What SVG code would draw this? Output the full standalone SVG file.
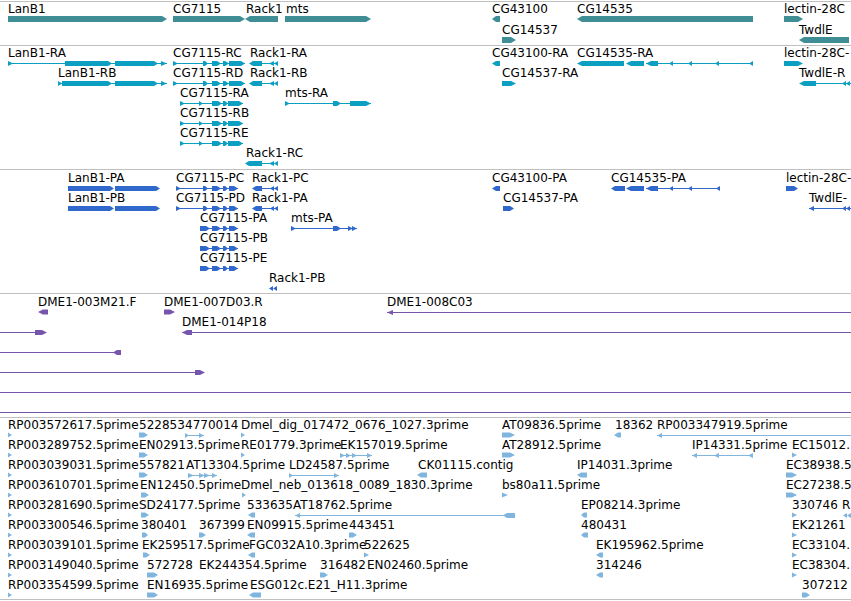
<svg xmlns="http://www.w3.org/2000/svg" width="851" height="601" viewBox="0 0 851 601">
<style>
text{font-family:"DejaVu Sans","Liberation Sans",sans-serif;font-size:12px;fill:#000;stroke:none}
.sep{stroke:#c0c0c0;stroke-width:1;fill:none}
.g{fill:#3f8e95}
.r{fill:#0b9fc1;stroke:#0b9fc1}
.p{fill:#3168cc;stroke:#3168cc}
.d{fill:#7656ac;stroke:#7656ac}
.e{fill:#80b5de;stroke:#80b5de}
.ln{fill:none;stroke-width:1}
.sh{stroke:none}
</style>
<defs>
<g id="cgL"><path d="M0 0H72" fill="none"/><polygon stroke="none" points="0,-2.5 5,0 0,2.5"/><polygon stroke="none" points="30,-2.5 32,-2.5 35,0 32,2.5 30,2.5"/><polygon stroke="none" points="39,-2.5 44,-2.5 48,0 44,2.5 39,2.5"/><polygon stroke="none" points="50,-2.5 52,-2.5 56,0 52,2.5 50,2.5"/><polygon stroke="none" points="56,-2.5 68,-2.5 72,0 68,2.5 56,2.5"/></g>
<g id="cgS"><path d="M0 0H63" fill="none"/><polygon stroke="none" points="0,-2.5 5,0 0,2.5"/><polygon stroke="none" points="19,-2.5 23,0 19,2.5"/><polygon stroke="none" points="32,-2.5 38,-2.5 42,0 38,2.5 32,2.5"/><polygon stroke="none" points="43,-2.5 45,-2.5 48,0 45,2.5 43,2.5"/><polygon stroke="none" points="48,-2.5 59,-2.5 63,0 59,2.5 48,2.5"/></g>
<g id="rk"><path d="M13 0H29" fill="none"/><polygon stroke="none" points="0,0 4,-2.5 13,-2.5 13,2.5 4,2.5"/><polygon stroke="none" points="20,0 25,-2.5 25,2.5"/><polygon stroke="none" points="25,0 29,-2.5 29,2.5"/></g>
<g id="pcL"><path d="M0 0H62" fill="none"/><polygon stroke="none" points="0,-2.5 5,0 0,2.5"/><polygon stroke="none" points="27,-2.5 29,-2.5 32,0 29,2.5 27,2.5"/><polygon stroke="none" points="36,-2.5 41,-2.5 45,0 41,2.5 36,2.5"/><polygon stroke="none" points="47,-2.5 49,-2.5 52,0 49,2.5 47,2.5"/><polygon stroke="none" points="53,-2.5 58,-2.5 62,0 58,2.5 53,2.5"/></g>
<g id="pcS"><path d="M0 0H38" fill="none"/><polygon stroke="none" points="0,-2.5 6,-2.5 10,0 6,2.5 0,2.5"/><polygon stroke="none" points="12,-2.5 17,-2.5 21,0 17,2.5 12,2.5"/><polygon stroke="none" points="23,-2.5 25,-2.5 28,0 25,2.5 23,2.5"/><polygon stroke="none" points="29,-2.5 34,-2.5 38,0 34,2.5 29,2.5"/></g>
<g id="prk"><path d="M10 0H26" fill="none"/><polygon stroke="none" points="0,0 4,-2.5 10,-2.5 10,2.5 4,2.5"/><polygon stroke="none" points="18,0 22,-2.5 22,2.5"/><polygon stroke="none" points="22,0 26,-2.5 26,2.5"/></g>
</defs>
<rect width="851" height="601" fill="#fff"/>
<g id="separators">
<path class="sep" d="M0 1.5H851M0 45.5H851M0 169.5H851M0 293.5H851M0 417.5H851M0 599.5H851"/>
</g>
<g id="connectors"></g>
<!-- Track 1: genes -->
<g id="gene-LanB1"><text x="8" y="13">LanB1</text><polygon class="g" points="8,16 162,16 167,19 162,22 8,22"/></g>
<g id="gene-CG7115"><text x="173" y="13">CG7115</text><polygon class="g" points="173,16 240,16 245,19 240,22 173,22"/></g>
<g id="gene-Rack1"><text x="246" y="13">Rack1</text><polygon class="g" points="245,19 250,16 278,16 278,22 250,22"/></g>
<g id="gene-mts"><text x="286" y="13">mts</text><polygon class="g" points="285,16 366,16 371,19 366,22 285,22"/></g>
<g id="gene-CG43100"><text x="492" y="13">CG43100</text><polygon class="g" points="492,19 496,16 500,16 500,22 496,22"/></g>
<g id="gene-CG14535"><text x="577" y="13">CG14535</text><polygon class="g" points="577,19 582,16 753,16 753,22 582,22"/></g>
<g id="gene-lectin-28C"><text x="784" y="13">lectin-28C</text><polygon class="g" points="784,16 798,16 803,19 798,22 784,22"/></g>
<g id="gene-CG14537"><text x="502" y="34">CG14537</text><polygon class="g" points="502,37 511,37 516,40 511,43 502,43"/></g>
<g id="gene-TwdlE"><text x="799" y="34">TwdlE</text><polygon class="g" points="799,40 804,37 849,37 849,43 804,43"/></g>
<!-- Track 2: transcripts -->
<g id="tx-LanB1-RA" class="r"><text x="8" y="57">LanB1-RA</text><path class="ln" d="M8 63.5H167"/><polygon class="sh" points="8,61 13,63.5 8,66"/><polygon class="sh" points="65,61 108,61 112,63.5 108,66 65,66"/><polygon class="sh" points="115,61 154,61 158,63.5 154,66 115,66"/><polygon class="sh" points="161,61 167,63.5 161,66"/></g>
<g id="tx-LanB1-RB" class="r"><text x="58" y="77">LanB1-RB</text><path class="ln" d="M58 83.5H167"/><polygon class="sh" points="58,81 62,83.5 58,86"/><polygon class="sh" points="62,81 108,81 112,83.5 108,86 62,86"/><polygon class="sh" points="115,81 154,81 158,83.5 154,86 115,86"/><polygon class="sh" points="161,81 167,83.5 161,86"/></g>
<g id="tx-CG7115-RC"><text x="173" y="57">CG7115-RC</text><use href="#cgL" class="r" transform="translate(173,63.5)"/></g>
<g id="tx-CG7115-RD"><text x="173" y="77">CG7115-RD</text><use href="#cgL" class="r" transform="translate(173,83.5)"/></g>
<g id="tx-Rack1-RA"><text x="250" y="57">Rack1-RA</text><use href="#rk" class="r" transform="translate(249,63.5)"/></g>
<g id="tx-Rack1-RB"><text x="250" y="77">Rack1-RB</text><use href="#rk" class="r" transform="translate(249,83.5)"/></g>
<g id="tx-CG7115-RA"><text x="180" y="97">CG7115-RA</text><use href="#cgS" class="r" transform="translate(180,103.5)"/></g>
<g id="tx-CG7115-RB"><text x="180" y="117">CG7115-RB</text><use href="#cgS" class="r" transform="translate(180,123.5)"/></g>
<g id="tx-CG7115-RE"><text x="180" y="137">CG7115-RE</text><use href="#cgS" class="r" transform="translate(180,143.5)"/></g>
<g id="tx-Rack1-RC" class="r"><text x="246" y="157">Rack1-RC</text><path class="ln" d="M262 163.5H278"/><polygon class="sh" points="245,163.5 249,161 262,161 262,166 249,166"/><polygon class="sh" points="269,163.5 274,161 274,166"/><polygon class="sh" points="274,163.5 278,161 278,166"/></g>
<g id="tx-mts-RA" class="r"><text x="285" y="97">mts-RA</text><path class="ln" d="M285 103.5H371"/><polygon class="sh" points="285,101 290,103.5 285,106"/><polygon class="sh" points="333,101 337,101 341,103.5 337,106 333,106"/><polygon class="sh" points="350,101 366,101 371,103.5 366,106 350,106"/></g>
<g id="tx-CG43100-RA" class="r"><text x="492" y="57">CG43100-RA</text><polygon class="sh" points="492,63.5 496,61 500,61 500,66 496,66"/></g>
<g id="tx-CG14535-RA" class="r"><text x="577" y="57">CG14535-RA</text><path class="ln" d="M646 63.5H753"/><polygon class="sh" points="577,63.5 582,61 624,61 624,66 582,66"/><polygon class="sh" points="626,63.5 631,61 644,61 644,66 631,66"/><polygon class="sh" points="646,63.5 651,61 658,61 658,66 651,66"/><polygon class="sh" points="669,63.5 673,61 673,66"/><polygon class="sh" points="688,63.5 692,61 692,66"/><polygon class="sh" points="715,63.5 719,61 719,66"/><polygon class="sh" points="749,63.5 753,61 753,66"/></g>
<g id="tx-lectin-28C-RA" class="r"><text x="784" y="57">lectin-28C-</text><polygon class="sh" points="784,61 798,61 803,63.5 798,66 784,66"/></g>
<g id="tx-CG14537-RA" class="r"><text x="502" y="77">CG14537-RA</text><polygon class="sh" points="502,81 511,81 516,83.5 511,86 502,86"/></g>
<g id="tx-TwdlE-RA" class="r"><text x="799" y="77">TwdlE-R</text><path class="ln" d="M816 83.5H851"/><polygon class="sh" points="799,83.5 804,81 816,81 816,86 804,86"/><polygon class="sh" points="842,83.5 846,81 846,86"/><polygon class="sh" points="846,83.5 850,81 850,86"/></g>
<!-- Track 3: proteins -->
<g id="pr-LanB1-PA" class="p"><text x="68" y="182">LanB1-PA</text><polygon class="sh" points="68,186 110,186 114,188.5 110,191 68,191"/><polygon class="sh" points="115,186 156,186 160,188.5 156,191 115,191"/></g>
<g id="pr-LanB1-PB" class="p"><text x="68" y="202">LanB1-PB</text><polygon class="sh" points="68,206 110,206 114,208.5 110,211 68,211"/><polygon class="sh" points="115,206 156,206 160,208.5 156,211 115,211"/></g>
<g id="pr-CG7115-PC"><text x="176" y="182">CG7115-PC</text><use href="#pcL" class="p" transform="translate(176,188.5)"/></g>
<g id="pr-CG7115-PD"><text x="176" y="202">CG7115-PD</text><use href="#pcL" class="p" transform="translate(176,208.5)"/></g>
<g id="pr-Rack1-PC"><text x="252" y="182">Rack1-PC</text><use href="#prk" class="p" transform="translate(252,188.5)"/></g>
<g id="pr-Rack1-PA"><text x="252" y="202">Rack1-PA</text><use href="#prk" class="p" transform="translate(252,208.5)"/></g>
<g id="pr-CG7115-PA"><text x="200" y="222">CG7115-PA</text><use href="#pcS" class="p" transform="translate(200,228.5)"/></g>
<g id="pr-CG7115-PB"><text x="200" y="242">CG7115-PB</text><use href="#pcS" class="p" transform="translate(200,248.5)"/></g>
<g id="pr-CG7115-PE"><text x="200" y="262">CG7115-PE</text><use href="#pcS" class="p" transform="translate(200,268.5)"/></g>
<g id="pr-Rack1-PB" class="p"><text x="269" y="282">Rack1-PB</text><polygon class="sh" points="269,288.5 273,286 273,291"/><polygon class="sh" points="273,288.5 277,286 277,291"/></g>
<g id="pr-mts-PA" class="p"><text x="291" y="222">mts-PA</text><path class="ln" d="M291 228.5H357"/><polygon class="sh" points="291,226 296,228.5 291,231"/><polygon class="sh" points="333,226 337,226 341,228.5 337,231 333,231"/><polygon class="sh" points="348,226 353,228.5 348,231"/><polygon class="sh" points="352,226 357,228.5 352,231"/></g>
<g id="pr-CG43100-PA" class="p"><text x="492" y="182">CG43100-PA</text><polygon class="sh" points="492,188.5 496,186 500,186 500,191 496,191"/></g>
<g id="pr-CG14535-PA" class="p"><text x="611" y="182">CG14535-PA</text><path class="ln" d="M646 188.5H720"/><polygon class="sh" points="611,188.5 615,186 625,186 625,191 615,191"/><polygon class="sh" points="626,188.5 631,186 644,186 644,191 631,191"/><polygon class="sh" points="646,188.5 651,186 658,186 658,191 651,191"/><polygon class="sh" points="669,188.5 673,186 673,191"/><polygon class="sh" points="688,188.5 692,186 692,191"/><polygon class="sh" points="716,188.5 720,186 720,191"/></g>
<g id="pr-lectin-28C-PA" class="p"><text x="786" y="182">lectin-28C-</text><polygon class="sh" points="786,186 794,186 798,188.5 794,191 786,191"/></g>
<g id="pr-CG14537-PA" class="p"><text x="503" y="202">CG14537-PA</text><polygon class="sh" points="503,206 510,206 514,208.5 510,211 503,211"/></g>
<g id="pr-TwdlE-PA" class="p"><text x="809" y="202">TwdlE-</text><path class="ln" d="M809 208.5H851"/><polygon class="sh" points="809,208.5 814,206 814,211"/><polygon class="sh" points="842,208.5 846,206 846,211"/><polygon class="sh" points="846,208.5 850,206 850,211"/></g>
<!-- Track 4: BAC ends -->
<g id="bac-DME1-003M21.F" class="d"><text x="38" y="306">DME1-003M21.F</text><polygon class="sh" points="38,312 43,309.5 48,309.5 48,314.5 43,314.5"/></g>
<g id="bac-DME1-007D03.R" class="d"><text x="164" y="306">DME1-007D03.R</text><polygon class="sh" points="164,309.5 170,309.5 175,312 170,314.5 164,314.5"/></g>
<g id="bac-DME1-008C03" class="d"><text x="387" y="306">DME1-008C03</text><path class="ln" d="M387 312.5H851"/><polygon class="sh" points="387,312.5 393,310 393,315"/></g>
<g id="bac-row2a" class="d"><path class="ln" d="M0 332.5H40"/><polygon class="sh" points="35,330 42,330 47,332.5 42,335 35,335"/></g>
<g id="bac-DME1-014P18" class="d"><text x="182" y="326">DME1-014P18</text><path class="ln" d="M182 332.5H851"/><polygon class="sh" points="182,332.5 187,330 192,330 192,335 187,335"/></g>
<g id="bac-row3" class="d"><path class="ln" d="M0 352.5H115"/><polygon class="sh" points="113,352.5 117,350 121,350 121,355 117,355"/></g>
<g id="bac-row4" class="d"><path class="ln" d="M0 372.5H200"/><polygon class="sh" points="195,370 200,370 205,372.5 200,375 195,375"/></g>
<g id="bac-row5" class="d"><path class="ln" d="M0 392.5H851"/></g>
<g id="bac-row6" class="d"><path class="ln" d="M0 412.5H851"/></g>
<!-- Track 5: ESTs -->
<g id="est-r1" class="e">
<text x="8" y="429">RP003572617.5prime</text><polygon class="sh" points="8,432.5 12,435 8,437.5"/>
<text x="139" y="429">522853</text><polygon class="sh" points="139,432.5 144,432.5 148,435 144,437.5 139,437.5"/>
<text x="185" y="429">4770014</text><path class="ln" d="M185 435.5H204"/><polygon class="sh" points="185,433 189,435.5 185,438"/><polygon class="sh" points="199,433 204,435.5 199,438"/>
<text x="241" y="429">Dmel_dig_017472_0676_1027.3prime</text><polygon class="sh" points="241,432.5 245,435 241,437.5"/>
<text x="502" y="429">AT09836.5prime</text><polygon class="sh" points="502,432.5 510,432.5 515,435 510,437.5 502,437.5"/>
<text x="615" y="429">18362</text><polygon class="sh" points="614,435 618,432.5 621,432.5 621,437.5 618,437.5"/>
<text x="657" y="429">RP003347919.5prime</text><path class="ln" d="M657 435.5H851"/><polygon class="sh" points="657,435.5 662,433 662,438"/>
</g>
<g id="est-r2" class="e">
<text x="8" y="449">RP003289752.5prime</text><polygon class="sh" points="8,452.5 12,455 8,457.5"/>
<text x="139" y="449">EN02913.5prime</text><polygon class="sh" points="139,452.5 144,452.5 148,455 144,457.5 139,457.5"/>
<text x="241" y="449">RE01779.3prime</text><polygon class="sh" points="241,452.5 245,455 241,457.5"/>
<text x="340" y="449">EK157019.5prime</text><path class="ln" d="M340 455.5H372"/><polygon class="sh" points="340,453 345,455.5 340,458"/><polygon class="sh" points="346,453 351,455.5 346,458"/><polygon class="sh" points="352,453 357,455.5 352,458"/><polygon class="sh" points="367,453 372,455.5 367,458"/>
<text x="502" y="449">AT28912.5prime</text><polygon class="sh" points="502,452.5 510,452.5 515,455 510,457.5 502,457.5"/>
<text x="692" y="449">IP14331.5prime</text><path class="ln" d="M692 455.5H753"/><polygon class="sh" points="692,455.5 697,453 697,458"/><polygon class="sh" points="714,455.5 719,453 719,458"/><polygon class="sh" points="748,455.5 753,453 753,458"/>
<text x="792" y="449">EC15012.</text><polygon class="sh" points="792,452.5 797,455 792,457.5"/>
</g>
<g id="est-r3" class="e">
<text x="8" y="469">RP003039031.5prime</text><polygon class="sh" points="8,472.5 12,475 8,477.5"/>
<text x="139" y="469">557821</text><polygon class="sh" points="139,472.5 144,472.5 148,475 144,477.5 139,477.5"/>
<text x="186" y="469">AT13304.5prime</text><path class="ln" d="M188 475.5H217"/><polygon class="sh" points="188,473 194,475.5 188,478"/><polygon class="sh" points="199,473 205,475.5 199,478"/><polygon class="sh" points="204,473 210,475.5 204,478"/><polygon class="sh" points="212,473 217,475.5 212,478"/>
<text x="289" y="469">LD24587.5prime</text><path class="ln" d="M289 475.5H339"/><polygon class="sh" points="289,473 293,475.5 289,478"/><polygon class="sh" points="334,473 339,475.5 334,478"/>
<text x="418" y="469">CK01115.contig</text><polygon class="sh" points="417,475 421,472.5 427,472.5 427,477.5 421,477.5"/>
<text x="577" y="469">IP14031.3prime</text><polygon class="sh" points="577,475 581,472.5 587,472.5 587,477.5 581,477.5"/>
<text x="786" y="469">EC38938.5</text><polygon class="sh" points="786,472.5 792,472.5 797,475 792,477.5 786,477.5"/>
</g>
<g id="est-r4" class="e">
<text x="8" y="489">RP003610701.5prime</text><polygon class="sh" points="8,492.5 12,495 8,497.5"/>
<text x="140" y="489">EN12450.5prime</text><polygon class="sh" points="141,492.5 145,492.5 149,495 145,497.5 141,497.5"/>
<text x="241" y="489">Dmel_neb_013618_0089_1830.3prime</text><polygon class="sh" points="242,492.5 246,495 242,497.5"/>
<text x="502" y="489">bs80a11.5prime</text><polygon class="sh" points="502,492.5 508,495 502,497.5"/>
<text x="786" y="489">EC27238.5</text><polygon class="sh" points="786,492.5 792,492.5 797,495 792,497.5 786,497.5"/>
</g>
<g id="est-r5" class="e">
<text x="8" y="509">RP003281690.5prime</text><polygon class="sh" points="8,512.5 12,515 8,517.5"/>
<text x="139" y="509">SD24177.5prime</text><polygon class="sh" points="141,512.5 145,512.5 149,515 145,517.5 141,517.5"/>
<text x="247" y="509">533635</text><polygon class="sh" points="248,515 252,512.5 255,512.5 255,517.5 252,517.5"/>
<text x="293" y="509">AT18762.5prime</text><path class="ln" d="M295 515.5H506"/><polygon class="sh" points="295,515.5 300,513 300,518"/><polygon class="sh" points="503,515.5 507,513 515,513 515,518 507,518"/>
<text x="581" y="509">EP08214.3prime</text><polygon class="sh" points="581,515 584,512.5 587,512.5 587,517.5 584,517.5"/>
<text x="792" y="509">330746</text><polygon class="sh" points="792,512.5 797,515 792,517.5"/>
<text x="842" y="509">R</text><polygon class="sh" points="843,515.5 847,513 847,518"/><polygon class="sh" points="847,515.5 851,513 851,518"/>
</g>
<g id="est-r6" class="e">
<text x="8" y="529">RP003300546.5prime</text><polygon class="sh" points="8,532.5 12,535 8,537.5"/>
<text x="141" y="529">380401</text><polygon class="sh" points="142,532.5 145,532.5 148,535 145,537.5 142,537.5"/>
<text x="199" y="529">367399</text><polygon class="sh" points="199,532.5 202,532.5 206,535 202,537.5 199,537.5"/>
<text x="247" y="529">EN09915.5prime</text><polygon class="sh" points="247,535 251,532.5 255,532.5 255,537.5 251,537.5"/>
<text x="349" y="529">443451</text><polygon class="sh" points="349,532.5 353,532.5 357,535 353,537.5 349,537.5"/>
<text x="581" y="529">480431</text><polygon class="sh" points="581,535 584,532.5 588,532.5 588,537.5 584,537.5"/>
<text x="792" y="529">EK21261</text><polygon class="sh" points="792,532.5 797,535 792,537.5"/>
</g>
<g id="est-r7" class="e">
<text x="8" y="549">RP003039101.5prime</text><polygon class="sh" points="8,552.5 12,555 8,557.5"/>
<text x="142" y="549">EK259517.5prime</text><polygon class="sh" points="143,552.5 146,552.5 150,555 146,557.5 143,557.5"/>
<text x="249" y="549">FGC032A10.3prime</text><polygon class="sh" points="248,555 252,552.5 255,552.5 255,557.5 252,557.5"/>
<text x="364" y="549">522625</text><polygon class="sh" points="364,552.5 369,555 364,557.5"/>
<text x="596" y="549">EK195962.5prime</text><polygon class="sh" points="596,555 600,552.5 603,552.5 603,557.5 600,557.5"/>
<text x="792" y="549">EC33104.</text><polygon class="sh" points="792,552.5 797,555 792,557.5"/>
</g>
<g id="est-r8" class="e">
<text x="8" y="569">RP003149040.5prime</text><polygon class="sh" points="8,572.5 12,575 8,577.5"/>
<text x="147" y="569">572728</text><polygon class="sh" points="147,572.5 154,572.5 158,575 154,577.5 147,577.5"/>
<text x="199" y="569">EK244354.5prime</text>
<text x="320" y="569">316482</text><polygon class="sh" points="320,572.5 324,572.5 328,575 324,577.5 320,577.5"/>
<text x="367" y="569">EN02460.5prime</text>
<text x="596" y="569">314246</text><polygon class="sh" points="596,575 600,572.5 603,572.5 603,577.5 600,577.5"/>
<text x="792" y="569">EC38304.</text><polygon class="sh" points="792,572.5 797,575 792,577.5"/>
</g>
<g id="est-r9" class="e">
<text x="8" y="589">RP003354599.5prime</text><polygon class="sh" points="8,592.5 12,595 8,597.5"/>
<text x="147" y="589">EN16935.5prime</text><polygon class="sh" points="147,592.5 154,592.5 158,595 154,597.5 147,597.5"/>
<text x="250" y="589">ESG012c.E21_H11.3prime</text><polygon class="sh" points="249,595 253,592.5 261,592.5 261,597.5 253,597.5"/>
<text x="802" y="589">307212</text><polygon class="sh" points="802,592.5 806,592.5 810,595 806,597.5 802,597.5"/>
</g>
</svg>
